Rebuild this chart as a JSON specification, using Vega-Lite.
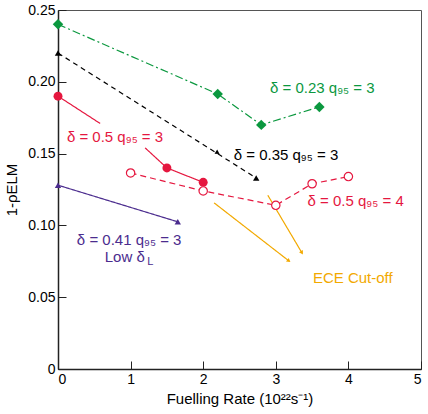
{
  "$schema": "https://vega.github.io/schema/vega-lite/v6.json",
  "width": 363,
  "height": 359,
  "autosize": {"type": "none"},
  "padding": {"left": 58, "top": 10, "right": 7, "bottom": 45},
  "background": "white",
  "config": {
    "font": "Liberation Sans",
    "view": {"stroke": "#555", "strokeWidth": 1},
    "axis": {
      "grid": false,
      "domainColor": "#222",
      "domainWidth": 1.5,
      "tickColor": "#222",
      "tickWidth": 1,
      "tickSize": -8,
      "labelPadding": 11,
      "labelFontSize": 14,
      "labelColor": "#000",
      "titleFontSize": 15,
      "titleFontWeight": "normal",
      "titleColor": "#000"
    }
  },
  "datasets": {
    "lines": [
      {"series": "g", "seg": "g", "x": 0, "y": 0.24},
      {"series": "g", "seg": "g", "x": 2.2, "y": 0.1915},
      {"series": "g", "seg": "g", "x": 2.8, "y": 0.17},
      {"series": "g", "seg": "g", "x": 3.6, "y": 0.1825},
      {"series": "k", "seg": "k", "x": 0, "y": 0.22},
      {"series": "k", "seg": "k", "x": 2.73, "y": 0.133},
      {"series": "r3", "seg": "r3a", "x": 0, "y": 0.19},
      {"series": "r3", "seg": "r3a", "x": 0.58, "y": 0.171},
      {"series": "r3", "seg": "r3b", "x": 1.2, "y": 0.154},
      {"series": "r3", "seg": "r3b", "x": 1.5, "y": 0.14},
      {"series": "r3", "seg": "r3b", "x": 2.0, "y": 0.13},
      {"series": "r4", "seg": "r4", "x": 1.0, "y": 0.1365},
      {"series": "r4", "seg": "r4", "x": 2.0, "y": 0.124},
      {"series": "r4", "seg": "r4", "x": 3.0, "y": 0.114},
      {"series": "r4", "seg": "r4", "x": 3.5, "y": 0.129},
      {"series": "r4", "seg": "r4", "x": 4.0, "y": 0.134},
      {"series": "p", "seg": "p", "x": 0, "y": 0.128},
      {"series": "p", "seg": "p", "x": 1.65, "y": 0.1025},
      {"series": "o", "seg": "o1", "x": 2.15, "y": 0.1157},
      {"series": "o", "seg": "o1", "x": 3.18, "y": 0.0753},
      {"series": "o", "seg": "o2", "x": 2.89, "y": 0.121},
      {"series": "o", "seg": "o2", "x": 3.36, "y": 0.0809}
    ],
    "markers": [
      {"series": "g", "kind": "diamond", "x": 0, "y": 0.24},
      {"series": "g", "kind": "diamond", "x": 2.2, "y": 0.1915},
      {"series": "g", "kind": "diamond", "x": 2.8, "y": 0.17},
      {"series": "g", "kind": "diamond", "x": 3.6, "y": 0.1825},
      {"series": "r3", "kind": "dot", "x": 0, "y": 0.19},
      {"series": "r3", "kind": "dot", "x": 1.5, "y": 0.14},
      {"series": "r3", "kind": "dot", "x": 2.0, "y": 0.13},
      {"series": "r4", "kind": "ring", "x": 1.0, "y": 0.1365},
      {"series": "r4", "kind": "ring", "x": 2.0, "y": 0.124},
      {"series": "r4", "kind": "ring", "x": 3.0, "y": 0.114},
      {"series": "r4", "kind": "ring", "x": 3.5, "y": 0.129},
      {"series": "r4", "kind": "ring", "x": 4.0, "y": 0.134},
      {"series": "k", "kind": "tri", "x": 0, "y": 0.22},
      {"series": "k", "kind": "tri", "x": 2.73, "y": 0.133},
      {"series": "p", "kind": "tri", "x": 0, "y": 0.128},
      {"series": "p", "kind": "tri", "x": 1.65, "y": 0.1025},
      {"series": "k", "kind": "headk", "x": 2.2, "y": 0.1505},
      {"series": "o", "kind": "heado1", "x": 3.18, "y": 0.0753},
      {"series": "o", "kind": "heado2", "x": 3.36, "y": 0.0809}
    ],
    "labels": [
      {"series": "g", "text": "δ = 0.23 q₉₅ = 3", "x": 3.64, "y": 0.1957, "size": "big"},
      {"series": "k", "text": "δ = 0.35 q₉₅ = 3", "x": 3.14, "y": 0.149, "size": "big"},
      {"series": "r3", "text": "δ = 0.5 q₉₅ = 3", "x": 0.785, "y": 0.1616, "size": "big"},
      {"series": "r4", "text": "δ = 0.5 q₉₅ = 4", "x": 4.1, "y": 0.117, "size": "big"},
      {"series": "p", "text": "δ = 0.41 q₉₅ = 3", "x": 0.98, "y": 0.09, "size": "big"},
      {"series": "p", "text": "Low δ", "x": 0.92, "y": 0.078, "size": "big"},
      {"series": "p", "text": "L", "x": 1.27, "y": 0.0745, "size": "small"},
      {"series": "o", "text": "ECE Cut-off", "x": 4.06, "y": 0.0634, "size": "big"}
    ]
  },
  "encoding": {
    "x": {
      "field": "x", "type": "quantitative",
      "scale": {"domain": [0, 5], "nice": false, "zero": false},
      "axis": {"values": [0, 1, 2, 3, 4, 5], "title": "Fuelling Rate (10²²s⁻¹)", "titlePadding": 5}
    },
    "y": {
      "field": "y", "type": "quantitative",
      "scale": {"domain": [0, 0.25], "nice": false, "zero": false},
      "axis": {
        "values": [0, 0.05, 0.1, 0.15, 0.2, 0.25],
        "labelExpr": "datum.value == 0 ? '0' : format(datum.value, '.2f')",
        "title": "1-ρELM",
        "titlePadding": 8
      }
    }
  },
  "layer": [
    {
      "data": {"name": "lines"},
      "mark": {"type": "line", "strokeWidth": 1.2, "clip": false},
      "encoding": {
        "detail": {"field": "seg"},
        "color": {
          "field": "series", "type": "nominal", "legend": null,
          "scale": {"domain": ["g", "k", "r3", "r4", "p", "o"], "range": ["#0b983f", "#000000", "#e5173f", "#e5173f", "#4b2c8e", "#f2a900"]}
        },
        "strokeDash": {
          "field": "series", "type": "nominal", "legend": null,
          "scale": {"domain": ["g", "k", "r3", "r4", "p", "o"], "range": [[8, 3, 2, 3], [5, 4], [1, 0], [6, 4], [1, 0], [1, 0]]}
        }
      }
    },
    {
      "data": {"name": "markers"},
      "transform": [{"filter": "datum.kind == 'diamond'"}],
      "mark": {"type": "point", "shape": "diamond", "filled": true, "size": 110, "opacity": 1, "color": "#0b983f"}
    },
    {
      "data": {"name": "markers"},
      "transform": [{"filter": "datum.kind == 'dot'"}],
      "mark": {"type": "point", "shape": "circle", "filled": true, "size": 80, "opacity": 1, "color": "#e5173f"}
    },
    {
      "data": {"name": "markers"},
      "transform": [{"filter": "datum.kind == 'ring'"}],
      "mark": {"type": "point", "shape": "circle", "filled": true, "size": 70, "opacity": 1, "fill": "white", "stroke": "#e5173f", "strokeWidth": 1.2}
    },
    {
      "data": {"name": "markers"},
      "transform": [{"filter": "datum.kind == 'tri'"}],
      "mark": {"type": "point", "shape": "triangle-up", "filled": true, "size": 40, "opacity": 1},
      "encoding": {
        "color": {"field": "series", "type": "nominal", "legend": null}
      }
    },
    {
      "data": {"name": "markers"},
      "transform": [{"filter": "datum.kind == 'headk'"}],
      "mark": {"type": "point", "shape": "triangle-up", "filled": true, "size": 25, "opacity": 1, "angle": 122, "color": "#000"}
    },
    {
      "data": {"name": "markers"},
      "transform": [{"filter": "datum.kind == 'heado1'"}],
      "mark": {"type": "point", "shape": "triangle-up", "filled": true, "size": 20, "opacity": 1, "angle": 128, "color": "#f2a900"}
    },
    {
      "data": {"name": "markers"},
      "transform": [{"filter": "datum.kind == 'heado2'"}],
      "mark": {"type": "point", "shape": "triangle-up", "filled": true, "size": 20, "opacity": 1, "angle": 150, "color": "#f2a900"}
    },
    {
      "data": {"name": "labels"},
      "transform": [{"filter": "datum.size == 'big'"}],
      "mark": {"type": "text", "fontSize": 15, "align": "center", "baseline": "middle"},
      "encoding": {
        "text": {"field": "text"},
        "color": {"field": "series", "type": "nominal", "legend": null}
      }
    },
    {
      "data": {"name": "labels"},
      "transform": [{"filter": "datum.size == 'small'"}],
      "mark": {"type": "text", "fontSize": 11, "align": "center", "baseline": "middle"},
      "encoding": {
        "text": {"field": "text"},
        "color": {"field": "series", "type": "nominal", "legend": null}
      }
    }
  ]
}
